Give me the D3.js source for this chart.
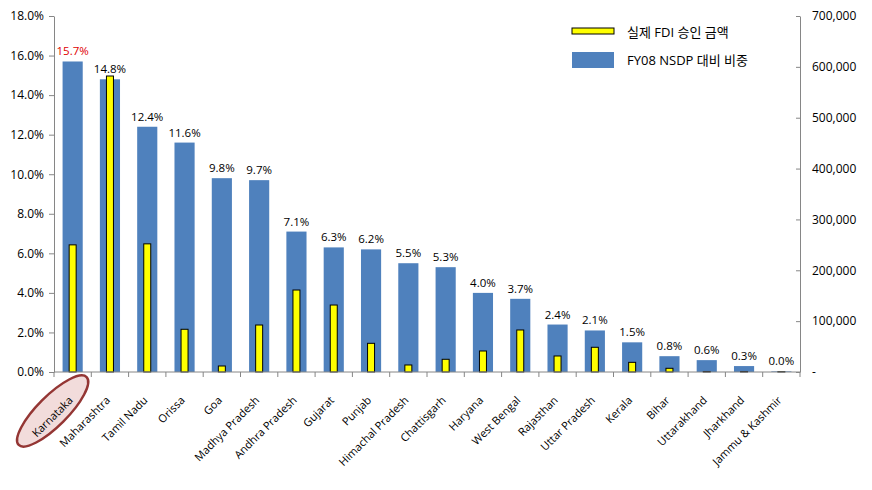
<!DOCTYPE html>
<html>
<head>
<meta charset="utf-8">
<script src="https://cdn.jsdelivr.net/npm/d3@7"></script>
<style>
  body { margin: 0; background: #fff; }
  svg text { font-family: "Open Sans", "Noto Sans CJK KR", sans-serif; fill: #000; }
</style>
</head>
<body>
<svg id="drawing_region"></svg>
<script>
const states = ['Karnataka', 'Maharashtra', 'Tamil Nadu', 'Orissa', 'Goa', 'Madhya Pradesh',
    'Andhra Pradesh', 'Gujarat', 'Punjab', 'Himachal Pradesh', 'Chattisgarh', 'Haryana',
    'West Bengal', 'Rajasthan', 'Uttar Pradesh', 'Kerala', 'Bihar', 'Uttarakhand',
    'Jharkhand', 'Jammu & Kashmir'];
// FY08 NSDP share (%)
const nsdpShare = [15.7, 14.8, 12.4, 11.6, 9.8, 9.7, 7.1, 6.3, 6.2, 5.5, 5.3, 4.0, 3.7,
    2.4, 2.1, 1.5, 0.8, 0.6, 0.3, 0.03];
// actual approved FDI amount
const fdiAmount = [250000, 582000, 252000, 84000, 11800, 92400, 161200, 131700, 56400, 13800,
    25000, 41300, 82600, 31500, 48600, 19000, 7300, 1000, 1000, 600];
const leftTicks = [0, 2, 4, 6, 8, 10, 12, 14, 16, 18];
const rightTicks = [0, 100000, 200000, 300000, 400000, 500000, 600000, 700000];
const legendLabels = ['실제 FDI 승인 금액', 'FY08 NSDP 대비 비중'];

const config = {
    width: 872,
    height: 490,
    margin: {top: 16, right: 72, bottom: 118, left: 54}
};

const svg = d3.select('#drawing_region')
    .attr('width', config.width)
    .attr('height', config.height);

const inner_width = config.width - config.margin.left - config.margin.right;
const inner_height = config.height - config.margin.top - config.margin.bottom;

const chart = svg.append('g')
    .attr('transform', `translate(${config.margin.left}, ${config.margin.top})`);

const xscale = d3.scaleBand()
    .domain(states)
    .range([0, inner_width]);

const yleft = d3.scaleLinear()
    .domain([0, 18])
    .range([inner_height, 0]);

const yright = d3.scaleLinear()
    .domain([0, 700000])
    .range([inner_height, 0]);

const axisColor = '#868686';

// karnataka highlight oval (behind labels)
const k0 = xscale(states[0]) + xscale.bandwidth() / 2;
chart.append('ellipse')
    .attr('transform', `translate(${k0 - 20}, ${inner_height + 39}) rotate(-45)`)
    .attr('rx', 48)
    .attr('ry', 15)
    .attr('fill', '#f2dcdb')
    .attr('stroke', '#943634')
    .attr('stroke-width', 2.5);

// blue bars
const bw = xscale.bandwidth() * 0.54;
chart.selectAll('.nsdp')
    .data(states)
    .join('rect')
    .attr('class', 'nsdp')
    .attr('x', (d, i) => xscale(d) + (xscale.bandwidth() - bw) / 2)
    .attr('y', (d, i) => yleft(nsdpShare[i]))
    .attr('width', bw)
    .attr('height', (d, i) => inner_height - yleft(nsdpShare[i]))
    .attr('fill', '#4f81bd');

// yellow bars
const yw = 7;
chart.selectAll('.fdi')
    .data(states)
    .join('rect')
    .attr('class', 'fdi')
    .attr('x', (d, i) => xscale(d) + (xscale.bandwidth() - yw) / 2)
    .attr('y', (d, i) => yright(fdiAmount[i]))
    .attr('width', yw)
    .attr('height', (d, i) => inner_height - yright(fdiAmount[i]))
    .attr('fill', '#ffff00')
    .attr('stroke', '#000')
    .attr('stroke-width', 1);

// value labels
chart.selectAll('.vlabel')
    .data(states)
    .join('text')
    .attr('class', 'vlabel')
    .attr('x', d => xscale(d) + xscale.bandwidth() / 2)
    .attr('y', (d, i) => yleft(nsdpShare[i]) - 6)
    .attr('text-anchor', 'middle')
    .attr('font-size', 11.5)
    .style('fill', (d, i) => i === 0 ? '#e00000' : '#000')
    .text((d, i) => nsdpShare[i].toFixed(1) + '%');

// left axis
const yaxisL = d3.axisLeft(yleft)
    .tickValues(leftTicks)
    .tickFormat(d => d.toFixed(1) + '%')
    .tickSize(5)
    .tickSizeOuter(0);
const gl = chart.append('g').call(yaxisL);
gl.selectAll('text').attr('font-size', 12).attr('x', -10);

// right axis
const yaxisR = d3.axisRight(yright)
    .tickValues(rightTicks)
    .tickFormat(d => d === 0 ? '-' : d3.format(',')(d))
    .tickSize(-4)
    .tickSizeOuter(0);
const gr = chart.append('g')
    .attr('transform', `translate(${inner_width}, 0)`)
    .call(yaxisR);
gr.selectAll('text').attr('font-size', 12).attr('x', 12);

// bottom axis
const gx = chart.append('g')
    .attr('transform', `translate(0, ${inner_height})`);
gx.append('line')
    .attr('x1', 0).attr('x2', inner_width)
    .attr('stroke', axisColor);
gx.selectAll('.tick')
    .data(d3.range(states.length + 1))
    .join('line')
    .attr('x1', i => i * xscale.step())
    .attr('x2', i => i * xscale.step())
    .attr('y1', 0).attr('y2', 5)
    .attr('stroke', axisColor);
gx.selectAll('.xlabel')
    .data(states)
    .join('text')
    .attr('class', 'xlabel')
    .attr('transform', d => `translate(${xscale(d) + xscale.bandwidth() / 2 + 1}, ${29}) rotate(-45)`)
    .attr('text-anchor', 'end')
    .attr('font-size', 11)
    .text(d => d);

[gl, gr].forEach(g => {
    g.select('.domain').attr('stroke', axisColor);
    g.selectAll('.tick line').attr('stroke', axisColor);
});

// legend
const legend = svg.append('g');
legend.append('rect')
    .attr('x', 572).attr('y', 28).attr('width', 42).attr('height', 6)
    .attr('fill', '#ffff00').attr('stroke', '#000');
legend.append('rect')
    .attr('x', 572).attr('y', 52).attr('width', 42).attr('height', 16)
    .attr('fill', '#4f81bd');
legend.selectAll('.ltext')
    .data(legendLabels)
    .join('text')
    .attr('class', 'ltext')
    .attr('x', 627)
    .attr('y', (d, i) => 32 + i * 28)
    .attr('dy', '0.35em')
    .attr('font-size', 13)
    .text(d => d);
</script>
</body>
</html>
